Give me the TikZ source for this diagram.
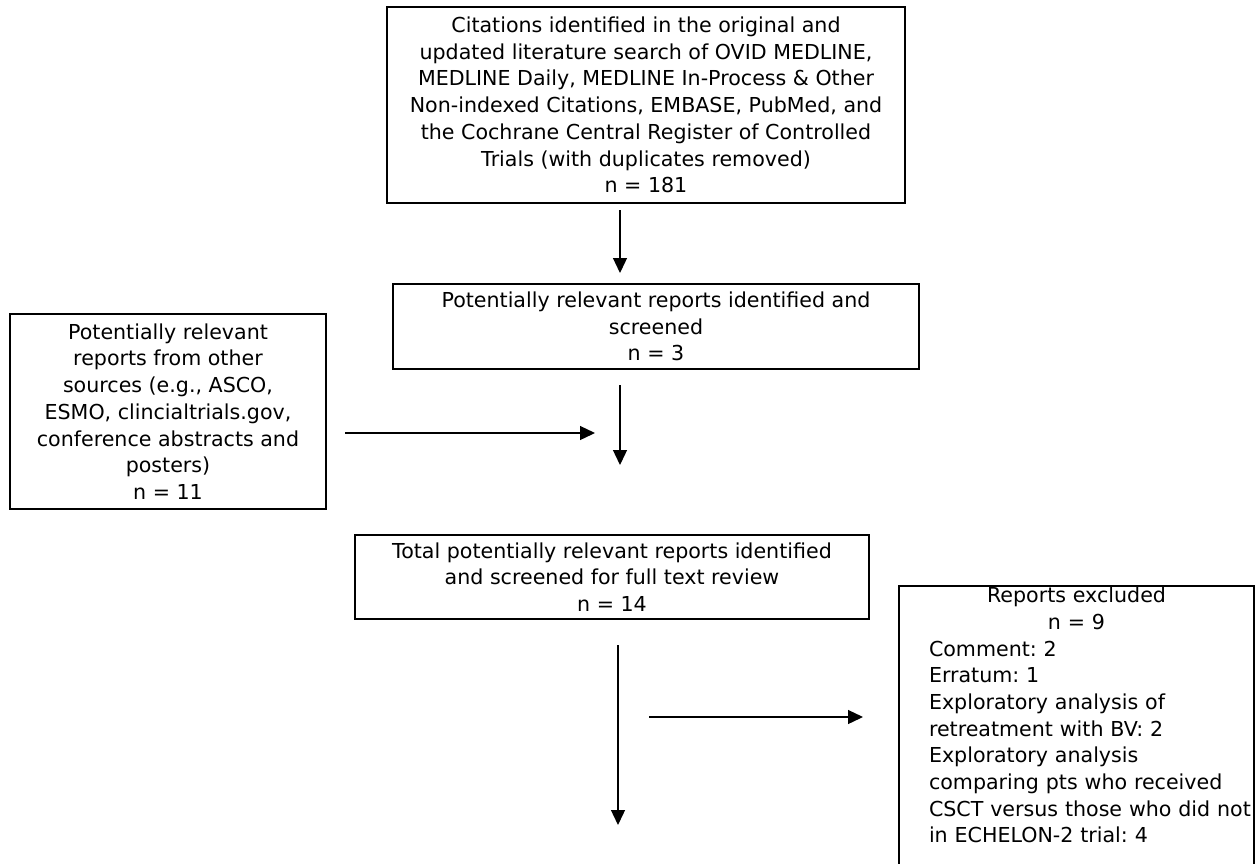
\documentclass[tikz,border=0pt]{standalone}
\usepackage{fontspec}
\setmainfont{DejaVu Sans}
\usetikzlibrary{arrows.meta}

\begin{document}
\begin{tikzpicture}[
            x = 1pt, y = -1pt, % pixel grid, y pointing down
            > = {Triangle[length=15pt, width=14pt]}, % arrow head style
            line width = 1.3pt
        ]

        \tikzstyle{block}=[
            draw = black,
            line width = 2pt,
            align = center,
            anchor = north west,
            inner sep = 0pt,
            font = \fontsize{20.6}{26.7}\selectfont\frenchspacing
        ]

    \useasboundingbox (0,0) rectangle (1255,863);

	\node[block, minimum width=518pt, minimum height=196pt] (cit) at (386,6)
	    {Citations identified in the original and\\
	     updated literature search of OVID MEDLINE,\\
	     MEDLINE Daily, MEDLINE In-Process \& Other\\
	     Non-indexed Citations, EMBASE, PubMed, and\\
	     the Cochrane Central Register of Controlled\\
	     Trials (with duplicates removed)\\
	     n = 181};
	\node[block, minimum width=526pt, minimum height=85pt] (scr) at (392,283)
	    {Potentially relevant reports identified and\\ screened\\ n = 3};
	\node[block, minimum width=316pt, minimum height=195pt] (oth) at (9,313)
	    {Potentially relevant\\ reports from other\\ sources (e.g., ASCO,\\
	     ESMO, clincialtrials.gov,\\ conference abstracts and\\ posters)\\ n = 11};
	\node[block, minimum width=514pt, minimum height=84pt] (tot) at (354,534)
	    {Total potentially relevant reports identified\\
	     and screened for full text review\\ n = 14};
	\node[block, align=left, text width=355pt, inner ysep=1pt] (exc) at (898,585)
	    {{\centering Reports excluded\\ n = 9\par}\leftskip=30pt
	     Comment: 2\\ Erratum: 1\\ Exploratory analysis of\\ retreatment with BV: 2\\
	     Exploratory analysis\\ comparing pts who received\\
	     CSCT versus those who did not\\
	     in ECHELON-2 trial: 4\rule[-40pt]{0pt}{40pt}\par};

    % free ends of the connectors
    \coordinate (col) at (620,0);
    \coordinate (mid1) at (620,433);
    \coordinate (end2) at (620,465);
    \coordinate (end4) at (618,825);
    \coordinate (start5) at (649,717);

        \path[->] (cit.south -| col) edge[shorten <=6pt, shorten >=10pt] (scr.north -| col);
        \path[->] (oth.east |- mid1) edge[shorten <=18pt, shorten >=25pt] (mid1);
        \path[->] (scr.south -| col) edge[shorten <=15pt] (end2);
        \path[->] (tot.south -| end4) edge[shorten <=25pt] (end4);
        \path[->] (start5) edge[shorten >=35pt] (exc.west |- start5);

    \end{tikzpicture}
\end{document}
